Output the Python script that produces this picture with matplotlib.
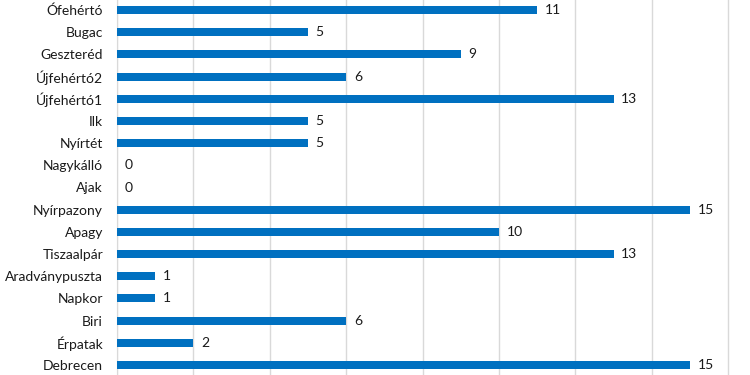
import numpy as np
import matplotlib
matplotlib.use("Agg")
import matplotlib.pyplot as plt

# top to bottom as shown in the chart
places = ["Ófehértó", "Bugac", "Geszteréd", "Újfehértó2", "Újfehértó1", "Ilk",
          "Nyírtét", "Nagykálló", "Ajak", "Nyírpazony", "Apagy", "Tiszaalpár",
          "Aradványpuszta", "Napkor", "Biri", "Érpatak", "Debrecen"]
counts = [11, 5, 9, 6, 13, 5, 5, 0, 0, 15, 10, 13, 1, 1, 6, 2, 15]
xticks = [0, 2, 4, 6, 8, 10, 12, 14, 16]

plt.rcParams['font.family'] = ['Lato', 'DejaVu Sans']

fig = plt.figure(figsize=(7.5, 3.75), dpi=100)
ax = fig.add_axes([117 / 750, 0, 1 - 117 / 750, 1])

# reverse so the first place ends up on top
ypos = np.arange(len(places))[::-1]
ax.barh(ypos, counts, height=0.36, color='#0070C0', zorder=3)

for y, v in zip(ypos, counts):
    ax.annotate(str(v), (v, y), xytext=(5.5, 0), textcoords='offset points',
                va='center', ha='left', fontsize=10, color='#1a1a1a')

ax.set_xlim(0, 633 / 38.2)
ax.set_ylim(-0.45, 16.45)
ax.set_xticks(xticks)
ax.set_xticklabels([])
ax.set_yticks(ypos)
ax.set_yticklabels(places, fontsize=10, color='#1a1a1a')
ax.tick_params(axis='both', length=0, pad=10)
ax.grid(axis='x', color='#d9d9d9', linewidth=1, zorder=0)
for s in ['top', 'right', 'bottom']:
    ax.spines[s].set_visible(False)
ax.spines['left'].set_color('#d9d9d9')

fig.savefig("out.png", dpi=100)
